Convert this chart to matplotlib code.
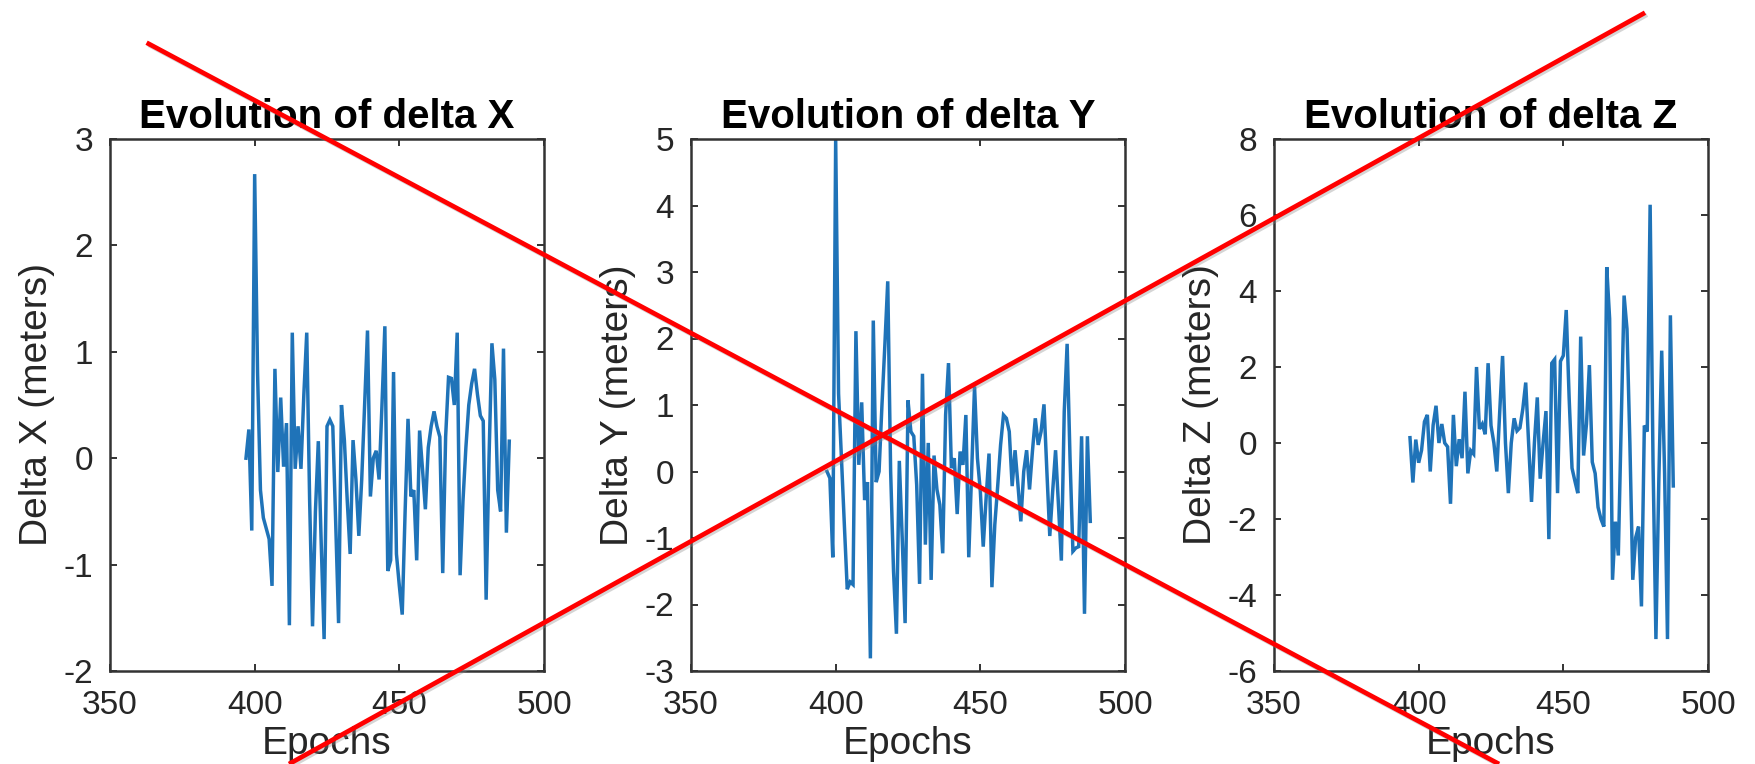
import numpy as np
import matplotlib
matplotlib.use("Agg")
import matplotlib.pyplot as plt
from matplotlib.lines import Line2D

# Epoch indices shared by the three position-error series
epochs = np.arange(397, 489)

delta_x = [
    0.00, 0.27, -0.68, 2.67, 0.80, -0.30, -0.56, -0.66, -0.76, -1.20,
    0.84, -0.13, 0.57, -0.08, 0.33, -1.57, 1.18, -0.10, 0.30, -0.10,
    0.60, 1.18, -0.40, -1.58, -0.50, 0.16, -0.80, -1.70, 0.30, 0.36,
    0.30, -0.60, -1.55, 0.50, 0.17, -0.40, -0.90, 0.17, -0.20, -0.73,
    -0.20, 0.50, 1.20, -0.36, 0.00, 0.07, -0.20, 0.50, 1.24, -1.06,
    -0.96, 0.81, -0.90, -1.20, -1.47, -0.50, 0.37, -0.36, -0.30, -0.96,
    0.26, -0.10, -0.48, 0.10, 0.30, 0.44, 0.30, 0.20, -1.08, 0.20,
    0.76, 0.75, 0.50, 1.18, -1.10, -0.40, 0.10, 0.50, 0.70, 0.84,
    0.60, 0.40, 0.35, -1.33, 0.00, 1.08, 0.74, -0.30, -0.50, 1.03,
    -0.70, 0.16,
]

delta_y = [
    0.00, -0.10, -1.29, 5.00, 1.17, 0.20, -0.80, -1.77, -1.66, -1.70,
    2.11, 0.10, 1.04, -0.43, -0.16, -2.81, 2.27, -0.16, 0.00, 1.00,
    1.90, 2.86, 0.00, -1.50, -2.44, 0.16, -1.00, -2.28, 1.07, 0.60,
    0.53, -0.20, -1.69, 1.47, -1.10, 0.43, -1.63, 0.24, -0.27, -0.50,
    -1.23, 0.85, 1.63, 0.05, 0.20, -0.64, 0.30, 0.10, 0.85, -1.29,
    0.00, 1.28, 0.20, -0.30, -1.13, -0.40, 0.27, -1.74, -0.80, -0.22,
    0.40, 0.85, 0.80, 0.60, -0.22, 0.32, -0.20, -0.75, 0.00, 0.32,
    -0.27, 0.30, 0.80, 0.40, 0.60, 1.01, 0.00, -0.97, -0.30, 0.32,
    -0.50, -1.34, 0.90, 1.92, 0.20, -1.20, -1.15, -1.13, 0.53, -2.14,
    0.53, -0.75,
]

delta_z = [
    0.14, -1.04, 0.09, -0.52, -0.19, 0.56, 0.74, -0.75, 0.47, 0.98,
    0.00, 0.50, 0.00, -0.10, -1.60, 0.74, -0.61, 0.10, -0.40, 1.35,
    -0.80, -0.20, -0.29, 2.00, 0.37, 0.50, 0.23, 2.10, 0.46, 0.00,
    -0.75, 0.80, 2.29, 0.00, -1.32, 0.00, 0.65, 0.32, 0.40, 0.90,
    1.59, 0.00, -1.55, 0.00, 1.20, -0.94, 0.00, 0.84, -2.53, 2.10,
    2.20, -1.32, 2.15, 2.30, 3.50, 1.20, -0.66, -1.00, -1.32, 2.80,
    -0.33, 0.50, 2.05, -0.50, -0.80, -1.69, -2.00, -2.20, 4.63, 3.27,
    -3.60, -2.07, -2.96, 0.50, 3.88, 3.00, 0.00, -3.60, -2.49, -2.20,
    -4.30, 0.46, 0.30, 6.27, -0.50, -5.16, -1.00, 2.43, -0.80, -5.16,
    3.36, -1.13,
]

titles = ["Evolution of delta X", "Evolution of delta Y", "Evolution of delta Z"]
ylabels = ["Delta X (meters)", "Delta Y (meters)", "Delta Z (meters)"]
xticks = [350, 400, 450, 500]
yticks = [
    [-2, -1, 0, 1, 2, 3],
    [-3, -2, -1, 0, 1, 2, 3, 4, 5],
    [-6, -4, -2, 0, 2, 4, 6, 8],
]
series = [delta_x, delta_y, delta_z]

plt.rcParams["font.family"] = ["Liberation Sans", "DejaVu Sans"]
plt.rcParams["axes.unicode_minus"] = False

W, H = 1756, 764
fig = plt.figure(figsize=(W / 100, H / 100), dpi=100)
fig.patch.set_facecolor("white")

lefts = [110, 691, 1274]
ax_w = 434
ax_top, ax_bottom = 139, 671

line_color = "#1f73b8"
frame_color = "#333333"
text_color = "#262626"

for i in range(3):
    ax = fig.add_axes([lefts[i] / W, 1 - ax_bottom / H, ax_w / W, (ax_bottom - ax_top) / H])
    ax.plot(epochs, series[i], color=line_color, lw=2.5, solid_joinstyle="miter")
    ax.set_xlim(350, 500)
    ax.set_ylim(yticks[i][0], yticks[i][-1])
    ax.set_xticks(xticks)
    ax.set_yticks(yticks[i])
    ax.tick_params(direction="in", length=5, width=1.4, colors=frame_color,
                   labelsize=24, labelcolor=text_color, top=True, right=True)
    ax.tick_params(axis="y", pad=12)
    ax.tick_params(axis="x", pad=14)
    for sp in ax.spines.values():
        sp.set_color(frame_color)
        sp.set_linewidth(1.8)
    ax.set_title(titles[i], fontsize=29, fontweight="bold", color="black", pad=8)
    ax.set_xlabel("Epochs", fontsize=28, color=text_color, labelpad=3)
    ax.set_ylabel(ylabels[i], fontsize=28, color=text_color, labelpad=6)

# Two red strokes crossing the whole figure, with a faint drop shadow
strokes = [((146.6, 42.7), (1499.0, 764.0)), ((1645.0, 12.7), (289.0, 764.0))]
for (x0, y0), (x1, y1) in strokes:
    fig.add_artist(Line2D([(x0 + 2) / W, (x1 + 2) / W], [1 - (y0 + 2) / H, 1 - (y1 + 2) / H],
                          transform=fig.transFigure, color="#888888", alpha=0.35,
                          lw=3.4, solid_capstyle="butt", zorder=9))
    fig.add_artist(Line2D([x0 / W, x1 / W], [1 - y0 / H, 1 - y1 / H],
                          transform=fig.transFigure, color="#ff0000",
                          lw=3.4, solid_capstyle="butt", zorder=10))

fig.savefig("out.png", dpi=100)
